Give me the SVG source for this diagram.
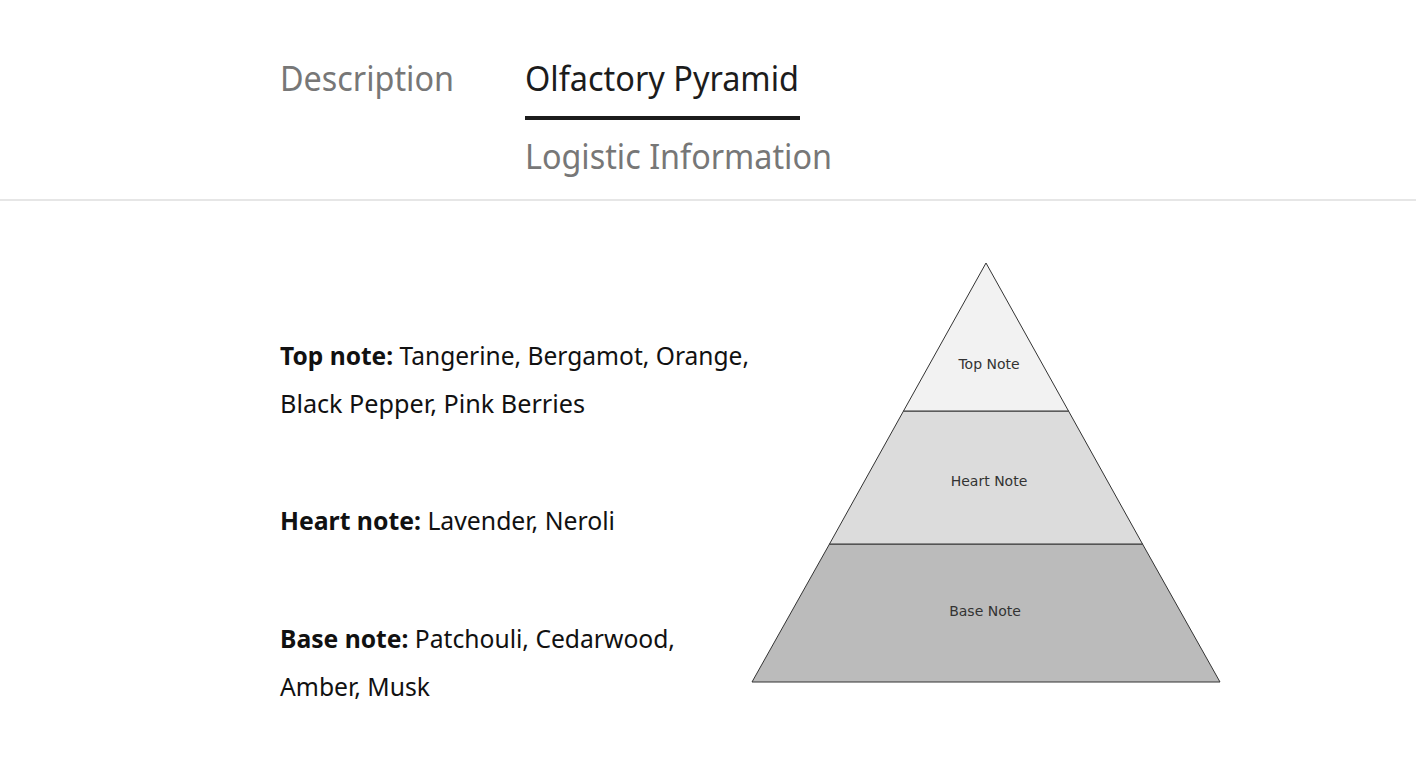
<svg xmlns="http://www.w3.org/2000/svg" width="1416" height="764" viewBox="0 0 1416 764">
<style>
.tab{font-family:"Noto Sans","Open Sans",sans-serif;font-size:34px;fill:#777}
.tab.on{fill:#1c1c1c}
.body{font-family:"Noto Sans","Open Sans",sans-serif;font-size:25px;fill:#111}
.b{font-weight:bold}
.lbl{font-family:"DejaVu Sans",sans-serif;font-size:14px;fill:#333;text-anchor:middle}
.layer{stroke:#333;stroke-width:1}
</style>
<rect width="1416" height="764" fill="#ffffff"/>
<g id="tabs">
<text class="tab" x="280" y="91" textLength="174" lengthAdjust="spacingAndGlyphs">Description</text>
<text class="tab on" x="525" y="91" textLength="274" lengthAdjust="spacingAndGlyphs">Olfactory Pyramid</text>
<rect x="525" y="116" width="275" height="4" fill="#1c1c1c"/>
<text class="tab" x="525" y="169" textLength="307" lengthAdjust="spacingAndGlyphs">Logistic Information</text>
<rect x="0" y="199" width="1416" height="2" fill="#e6e6e6"/>
</g>
<g id="notes">
<text class="body" x="280" y="365" textLength="469" lengthAdjust="spacingAndGlyphs"><tspan class="b">Top note:</tspan> Tangerine, Bergamot, Orange,</text>
<text class="body" x="280" y="413" textLength="305" lengthAdjust="spacingAndGlyphs">Black Pepper, Pink Berries</text>
<text class="body" x="280" y="530" textLength="335" lengthAdjust="spacingAndGlyphs"><tspan class="b">Heart note:</tspan> Lavender, Neroli</text>
<text class="body" x="280" y="648" textLength="395" lengthAdjust="spacingAndGlyphs"><tspan class="b">Base note:</tspan> Patchouli, Cedarwood,</text>
<text class="body" x="280" y="696" textLength="150" lengthAdjust="spacingAndGlyphs">Amber, Musk</text>
</g>
<g id="pyramid">
<g id="base-layer">
<polygon class="layer" points="829.5,544 1142.5,544 1220,682 752,682" fill="#bbbbbb"/>
<text class="lbl" x="985" y="616">Base Note</text>
</g>
<g id="heart-layer">
<polygon class="layer" points="903.5,411 1068.5,411 1142.5,544 829.5,544" fill="#dcdcdc"/>
<text class="lbl" x="989" y="486">Heart Note</text>
</g>
<g id="top-layer">
<polygon class="layer" points="986,263 1068.5,411 903.5,411" fill="#f2f2f2"/>
<text class="lbl" x="989" y="369">Top Note</text>
</g>
</g>
</svg>
